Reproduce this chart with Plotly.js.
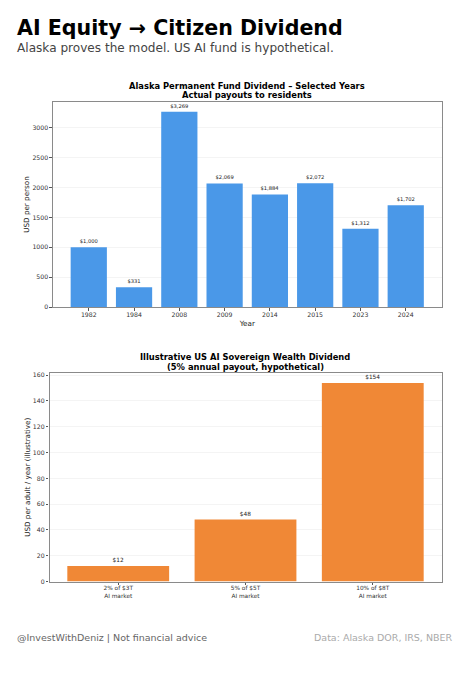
<!DOCTYPE html>
<html><head><meta charset="utf-8">
<script src="https://cdn.plot.ly/plotly-3.0.1.min.js"></script>
<style>html,body{margin:0;padding:0;background:#fff}#c{width:465px;height:680px}</style></head>
<body><div id="c"></div>
<script>
const years = ["1982","1984","2008","2009","2014","2015","2023","2024"];
const payouts = [1000,331,3269,2069,1884,2072,1312,1702];
const payoutLabels = ["$1,000","$331","$3,269","$2,069","$1,884","$2,072","$1,312","$1,702"];
const scenarios = ["2% of $3T<br>AI market","5% of $5T<br>AI market","10% of $8T<br>AI market"];
const dividends = [12,48,154];
const dividendLabels = ["$12","$48","$154"];
const F = "DejaVu Sans, sans-serif";
const W = 465, H = 680;
const px = (x) => x / W, py = (y) => 1 - y / H;
const ax = {showline:true, mirror:true, linecolor:"#8a8a8a", linewidth:1.2, ticks:"outside", ticklen:2.5, tickwidth:0.7,
  tickcolor:"#555", tickfont:{family:F,size:6.2,color:"#333"}, zeroline:false, automargin:false};
const yg = {gridcolor:"#f4f4f4", gridwidth:0.7, showgrid:true};
function note(x,y,text,size,color,anchor,bold){
  return {xref:"paper",yref:"paper",x:px(x),y:py(y),text:bold?"<b>"+text+"</b>":text,showarrow:false,
    xanchor:anchor,yanchor:"middle",font:{family:F,size:size,color:color},align:"center"};
}
const data = [
 {type:"bar",x:years,y:payouts,text:payoutLabels,textposition:"outside",cliponaxis:false,xaxis:"x",yaxis:"y",
  marker:{color:"#4a98e8"},width:0.8,textfont:{family:F,size:5.2,color:"#222"},hoverinfo:"x+y"},
 {type:"bar",x:scenarios,y:dividends,text:dividendLabels,textposition:"outside",cliponaxis:false,xaxis:"x2",yaxis:"y2",
  marker:{color:"#f08836"},width:0.8,textfont:{family:F,size:5.8,color:"#222"},hoverinfo:"x+y"}
];
const layout = {
 width:W,height:H,margin:{l:0,r:0,t:0,b:0},paper_bgcolor:"#fff",plot_bgcolor:"#fff",showlegend:false,
 font:{family:F},
 xaxis:{...ax,domain:[px(53),px(441.5)],anchor:"y",type:"category",range:[-0.79,7.79],ticklabelstandoff:-1,
   title:{text:"Year",font:{family:F,size:7.2,color:"#222"},standoff:3}},
 yaxis:{...ax,...yg,domain:[py(307),py(102)],anchor:"x",range:[0,3432],tickvals:[0,500,1000,1500,2000,2500,3000],
   title:{text:"USD per person",font:{family:F,size:7.2,color:"#222"},standoff:1}},
 xaxis2:{...ax,domain:[px(49.5),px(441.5)],anchor:"y2",type:"category",range:[-0.54,2.54],ticklabelstandoff:-2,
   tickfont:{family:F,size:5.8,color:"#333"}},
 yaxis2:{...ax,...yg,domain:[py(581.5),py(373)],anchor:"x2",range:[0,161.7],tickvals:[0,20,40,60,80,100,120,140,160],
   title:{text:"USD per adult / year (illustrative)",font:{family:F,size:7.2,color:"#222"},standoff:1}},
 annotations:[
  note(15,28,"AI Equity → Citizen Dividend",20.6,"#000","left",true),
  note(15,48,"Alaska proves the model. US AI fund is hypothetical.",12.1,"#444","left",false),
  note(247,85.5,"Alaska Permanent Fund Dividend – Selected Years",8.36,"#000","center",true),
  note(247,95,"Actual payouts to residents",8.36,"#000","center",true),
  note(245,357,"Illustrative US AI Sovereign Wealth Dividend",8.36,"#000","center",true),
  note(245,367,"(5% annual payout, hypothetical)",8.36,"#000","center",true),
  note(15,637,"@InvestWithDeniz | Not financial advice",9.5,"#666","left",false),
  note(455,637,"Data: Alaska DOR, IRS, NBER",9.5,"#aaa","right",false)
 ]
};
Plotly.newPlot("c",data,layout,{displayModeBar:false,responsive:false});
</script></body></html>
